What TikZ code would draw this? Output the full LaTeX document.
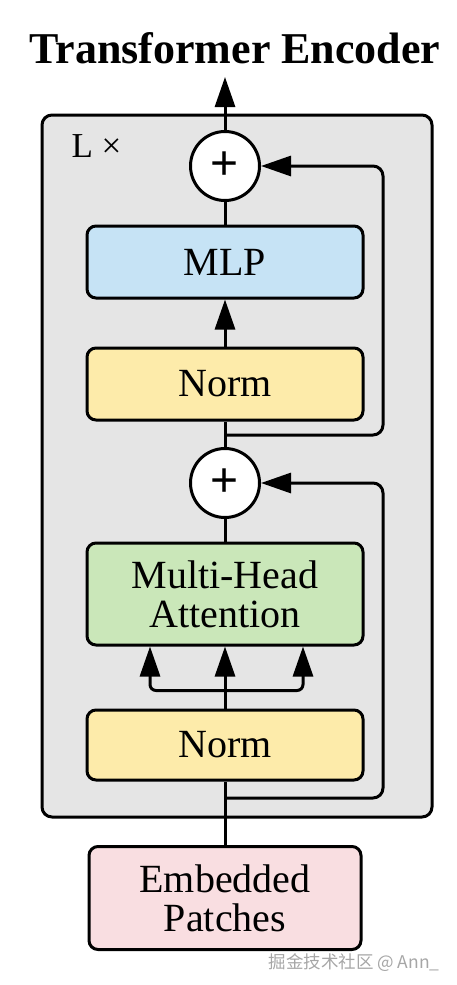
\documentclass[tikz,border=0pt]{standalone}
\usepackage{fontspec}
\setmainfont{Liberation Serif}
\newfontfamily\plusfont{Liberation Sans}
\newfontfamily\cjk{Noto Sans CJK SC}
\usetikzlibrary{arrows.meta}
\definecolor{layergray}{HTML}{E5E5E5}
\definecolor{mlpblue}{HTML}{C6E3F5}
\definecolor{normyellow}{HTML}{FDEBAA}
\definecolor{attngreen}{HTML}{CAE7B9}
\definecolor{embpink}{HTML}{F9DEE1}

\begin{document}
\begin{tikzpicture}[
    x=1pt, y=-1pt,
    line width=3pt,
    every node/.style={inner sep=0pt},
    block/.style={draw, rounded corners=9pt, minimum width=276pt, minimum height=72pt,
      align=center, font=\fontsize{40}{39}\selectfont},
    addop/.style={draw, circle, fill=white, minimum size=69pt,
      font=\plusfont\fontsize{48}{48}\selectfont},
    arr/.style={-{Triangle[length=30pt,width=20pt]}},
  ]
    \useasboundingbox (0,0) rectangle (457,985);
    \node[anchor=base, font=\bfseries\fontsize{44}{44}\selectfont] (title) at (235,63) {Transformer Encoder};
    \node[draw, fill=layergray, rounded corners=10pt, minimum width=390pt, minimum height=702pt] (layer) at (237,466) {};
    \node[anchor=base west, font=\fontsize{35}{35}\selectfont] (reps) at (70,157) {L ×};
    \node[addop] (add2) at (225,166) {+};
    \node[block, fill=mlpblue] (mlp) at (225,262) {MLP};
    \node[block, fill=normyellow] (norm2) at (225,384) {Norm};
    \node[addop] (add1) at (225,483) {+};
    \node[block, fill=attngreen, minimum height=102pt] (mha) at (225,594) {Multi-Head\\Attention};
    \node[block, fill=normyellow, minimum height=70pt] (norm1) at (225,745) {Norm};
    \node[block, fill=embpink, minimum width=272pt, minimum height=103pt] (emb) at (225,898) {Embedded\\Patches};
    \coordinate (out) at (225,77);
    \coordinate (br1) at (225,798);
    \coordinate (br2) at (225,435);
    \path (norm1.north) ++(0,-18) coordinate (fork);
    % main path
    \draw (emb.north) -- (norm1.south);
    \draw[arr] (norm1.north) -- (mha.south);
    \draw[arr, rounded corners=6pt] (fork) -| ([xshift=-75pt]mha.south);
    \draw[arr, rounded corners=6pt] (fork) -| ([xshift=78pt]mha.south);
    \draw (mha.north) -- (add1.south);
    \draw (add1.north) -- (norm2.south);
    \draw[arr] (norm2.north) -- (mlp.south);
    \draw (mlp.north) -- (add2.south);
    \draw[arr] (add2.north) -- (out);
    % residuals
    \draw[arr, rounded corners=10pt] (br1) -- ++(158,0) |- (add1.east);
    \draw[arr, rounded corners=10pt] (br2) -- ++(158,0) |- (add2.east);
    \node[anchor=base west, text=gray!70, font=\cjk\fontsize{17.5}{17.5}\selectfont] (mark) at (267,968) {掘金技术社区 @ Ann\_};
  \end{tikzpicture}
\end{document}
